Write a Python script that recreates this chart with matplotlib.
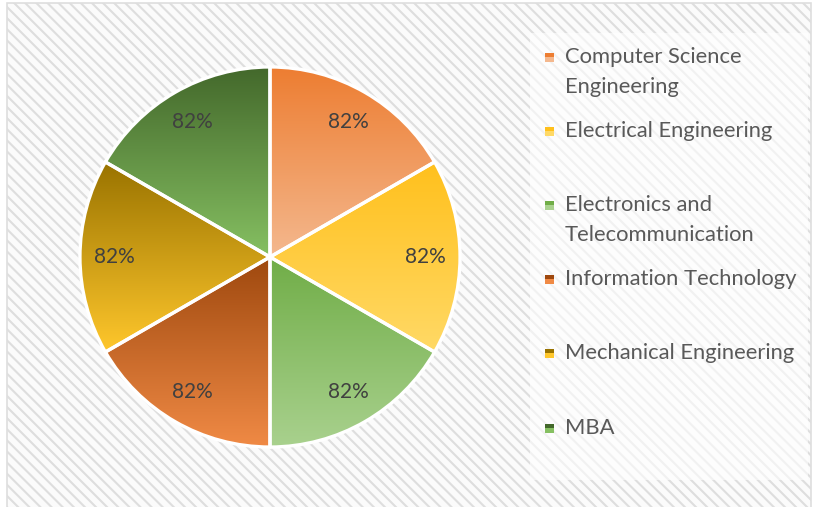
import numpy as np
import matplotlib

matplotlib.use("Agg")
import matplotlib.pyplot as plt
from matplotlib.colors import LinearSegmentedColormap
from matplotlib.patches import Rectangle

categories = [
    "Computer Science\nEngineering",
    "Electrical Engineering",
    "Electronics and\nTelecommunication",
    "Information Technology",
    "Mechanical Engineering",
    "MBA",
]
values = [82, 82, 82, 82, 82, 82]
top_colors = ["#ED7D31", "#FFC01C", "#70AD47", "#9E480E", "#997300", "#43682B"]
bottom_colors = ["#F4B88E", "#FFD966", "#A9D18E", "#F08A45", "#FFC72C", "#86C062"]

W, H = 815, 507
plt.rcParams["font.family"] = ["Lato", "DejaVu Sans"]
plt.rcParams["hatch.linewidth"] = 1.5

fig = plt.figure(figsize=(W / 100, H / 100), dpi=100)
fig.patch.set_facecolor("white")

# background with diagonal stripes, pixel coordinates
bg = fig.add_axes([0, 0, 1, 1])
bg.set_xlim(0, W)
bg.set_ylim(H, 0)
bg.axis("off")
bg.add_patch(Rectangle((7, 3), 804, 510, facecolor="#FBFBFB", edgecolor="#DEDEDE",
                       hatch="\\\\\\", linewidth=1.2))
bg.add_patch(Rectangle((530, 33), 278, 447, facecolor="white", edgecolor="none", alpha=0.6))

# pie
cx, cy, r = 270, 257, 191
ax = fig.add_axes([(cx - r) / W, (H - cy - r) / H, 2 * r / W, 2 * r / H])
wedges, _ = ax.pie(values, startangle=90, counterclock=False, radius=1,
                   wedgeprops=dict(facecolor="none", edgecolor="white", linewidth=2.4, zorder=3))
for i, (w, c0, c1) in enumerate(zip(wedges, top_colors, bottom_colors)):
    cmap = LinearSegmentedColormap.from_list("g", [c0, c1])
    th = np.radians([w.theta1, w.theta2])
    pts = np.array([[0, 0]] + [[np.cos(t), np.sin(t)] for t in np.linspace(th[0], th[1], 50)])
    y0, y1 = pts[:, 1].min(), pts[:, 1].max()
    x0, x1 = pts[:, 0].min(), pts[:, 0].max()
    grad = np.linspace(0, 1, 256).reshape(-1, 1)
    im = ax.imshow(grad, cmap=cmap, aspect="auto", extent=(x0, x1, y0, y1), zorder=1)
    im.set_clip_path(w)
    mid = np.radians((w.theta1 + w.theta2) / 2)
    ax.text(0.82 * np.cos(mid), 0.82 * np.sin(mid), f"{values[i]}%",
            ha="center", va="center", fontsize=15, color="#404040", zorder=4)
ax.set_xlim(-1.005, 1.005)
ax.set_ylim(-1.005, 1.005)
ax.set_aspect("equal")
ax.axis("off")

# legend drawn by hand to keep Excel-like spacing
leg_y = [57, 131, 205, 279, 353, 428]
for y, label, c0, c1 in zip(leg_y, categories, top_colors, bottom_colors):
    bg.add_patch(Rectangle((545, y - 4.5), 9, 9, facecolor=c1, edgecolor="none"))
    bg.add_patch(Rectangle((545, y - 4.5), 9, 4.5, facecolor=c0, edgecolor="none"))
    for k, line in enumerate(label.split("\n")):
        bg.text(565, y + 30 * k, line, ha="left", va="center", fontsize=15.8, color="#595959")

fig.savefig("out.png", dpi=100)
